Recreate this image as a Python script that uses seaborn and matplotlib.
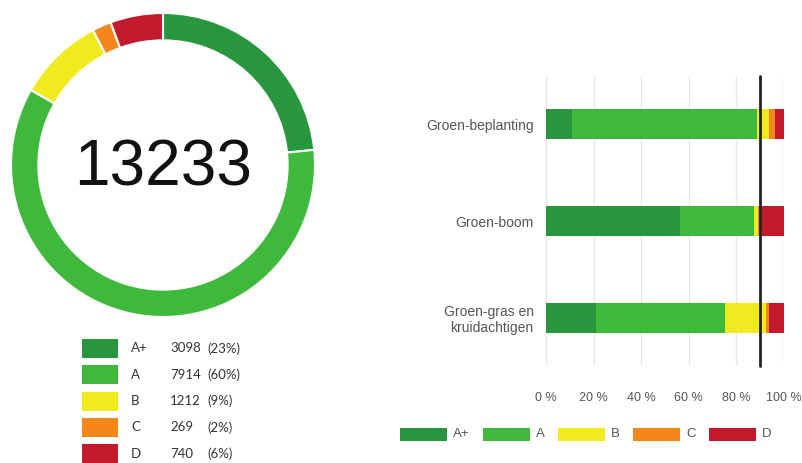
import matplotlib
matplotlib.use("Agg")
import matplotlib.pyplot as plt
from matplotlib.patches import Rectangle
import seaborn as sns
import pandas as pd
import numpy as np

# ---- data ----
classes = ["A+", "A", "B", "C", "D"]
counts = [3098, 7914, 1212, 269, 740]
colors = ["#27963c", "#3eb93b", "#f1ea1f", "#f5871a", "#c2192d"]

groups = ["Groen-beplanting", "Groen-boom", "Groen-gras en\nkruidachtigen"]
share_Aplus = [10.8, 56.3, 20.9]
share_A = [78.0, 31.1, 54.5]
share_B = [5.0, 1.7, 17.3]
share_C = [2.6, 1.6, 1.4]
share_D = [3.6, 9.3, 5.9]
target = 90
xticks = [0, 20, 40, 60, 80, 100]

W, H = 803, 463
fig = plt.figure(figsize=(W / 100, H / 100), dpi=100)
sns.set_style("white")

def px_axes(x0, y0, x1, y1):
    return fig.add_axes([x0 / W, 1 - y1 / H, (x1 - x0) / W, (y1 - y0) / H])

# ---- donut ----
cx, cy, r = 163, 165, 152
axd = px_axes(cx - r, cy - r, cx + r, cy + r)
axd.pie(counts, colors=colors, startangle=90, counterclock=False, radius=1,
        wedgeprops=dict(width=0.18, edgecolor="white", linewidth=1.5))
axd.set_xlim(-1, 1)
axd.set_ylim(-1, 1)
axd.set_aspect("equal")
axd.axis("off")
total = sum(counts)
axd.text(0, -0.138, f"{total}", ha="center", va="baseline", fontsize=46,
         family="Liberation Sans", color="#111111")

# ---- left legend table ----
row_y0, row_dy = 348.5, 26.3
for i, (c, n, col) in enumerate(zip(classes, counts, colors)):
    yc = row_y0 + i * row_dy
    fig.patches.append(Rectangle((82 / W, 1 - (yc + 9.5) / H), 36 / W, 19 / H,
                                 transform=fig.transFigure, facecolor=col,
                                 edgecolor="none"))
    pct = round(n / total * 100)
    fig.text(131 / W, 1 - yc / H, c, ha="left", va="center", fontsize=9.5,
             family="Lato", color="#333333")
    fig.text(170 / W, 1 - yc / H, f"{n}", ha="left", va="center", fontsize=9.5,
             family="Lato", color="#333333")
    fig.text(207 / W, 1 - yc / H, f"({pct}%)", ha="left", va="center", fontsize=9.5,
             family="Lato", color="#333333")

# ---- stacked bar chart ----
df = pd.DataFrame({"group": groups, "A+": share_Aplus, "A": share_A, "B": share_B,
                   "C": share_C, "D": share_D})
axb = px_axes(546, 76, 783.5, 366)
cum = df[classes].cumsum(axis=1)
for c, col in reversed(list(zip(classes, colors))):
    sns.barplot(x=cum[c], y=df["group"], orient="h", color=col, width=0.31,
                linewidth=0, saturation=1, ax=axb)
axb.set_xlim(0, 100)
axb.set_ylim(2.5, -0.5)
axb.set_xticks(xticks)
axb.set_xticklabels([f"{t} %" for t in xticks], family="Liberation Sans",
                    fontsize=9, color="#555555")
axb.set_yticklabels(groups, family="Liberation Sans", fontsize=10, color="#555555")
axb.tick_params(axis="x", length=0, pad=19)
axb.tick_params(axis="y", length=0, pad=9)
axb.set_xlabel("")
axb.set_ylabel("")
axb.grid(axis="x", color="#e8e8e8", linewidth=1)
axb.set_axisbelow(True)
for s in axb.spines.values():
    s.set_visible(False)
axb.axvline(target, color="#222222", linewidth=2, ymin=0, ymax=1.0, clip_on=False)

# ---- bottom legend ----
leg_x = [400, 483, 558, 633, 709]
leg_y = 434
for c, col, x in zip(classes, colors, leg_x):
    fig.patches.append(Rectangle((x / W, 1 - (leg_y + 6.5) / H), 47 / W, 13 / H,
                                 transform=fig.transFigure, facecolor=col,
                                 edgecolor="none"))
    fig.text((x + 53) / W, 1 - leg_y / H, c, ha="left", va="center", fontsize=9.5,
             family="Liberation Sans", color="#555555")

fig.savefig("out.png", dpi=100, facecolor="white")
